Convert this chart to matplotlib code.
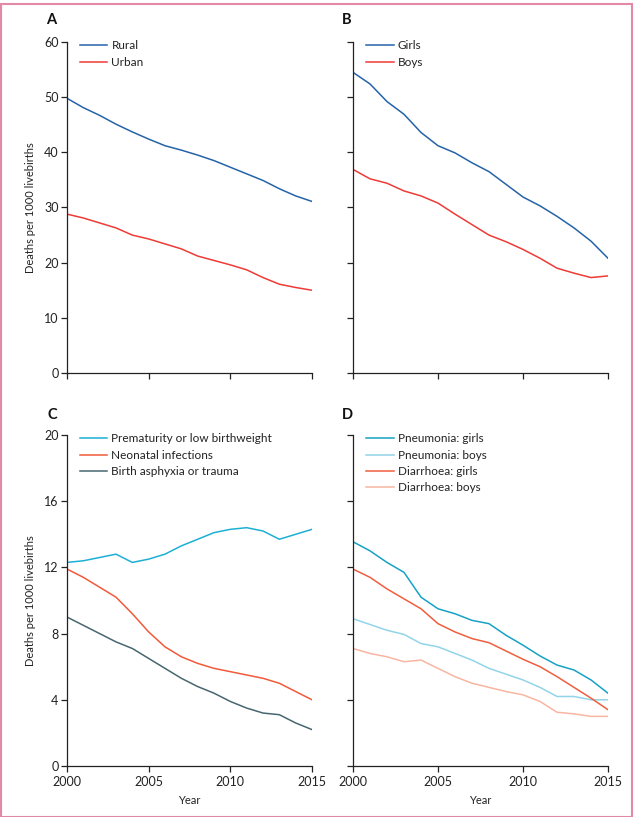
import matplotlib
matplotlib.use("Agg")
from matplotlib import pyplot as plt
from matplotlib.patches import Rectangle

plt.rcParams['font.family'] = ['Lato', 'DejaVu Sans']

years = list(range(2000, 2016))

# A: residence
rural = [49.8, 48.1, 46.7, 45.1, 43.7, 42.4, 41.2, 40.4, 39.5, 38.5, 37.3, 36.1, 34.9, 33.4, 32.1, 31.1]
urban = [28.8, 28.1, 27.2, 26.3, 25.0, 24.3, 23.4, 22.5, 21.2, 20.4, 19.6, 18.7, 17.3, 16.1, 15.5, 15.0]

# B: sex
girls = [54.5, 52.4, 49.2, 46.9, 43.6, 41.2, 39.9, 38.1, 36.5, 34.2, 31.9, 30.3, 28.4, 26.3, 23.9, 20.8]
boys = [36.9, 35.2, 34.4, 33.0, 32.1, 30.8, 28.8, 26.9, 25.0, 23.8, 22.4, 20.8, 19.0, 18.1, 17.3, 17.6]

# C: neonatal causes
prematurity = [12.3, 12.4, 12.6, 12.8, 12.3, 12.5, 12.8, 13.3, 13.7, 14.1, 14.3, 14.4, 14.2, 13.7, 14.0, 14.3]
neonatal_inf = [11.9, 11.4, 10.8, 10.2, 9.2, 8.1, 7.2, 6.6, 6.2, 5.9, 5.7, 5.5, 5.3, 5.0, 4.5, 4.0]
asphyxia = [9.0, 8.5, 8.0, 7.5, 7.1, 6.5, 5.9, 5.3, 4.8, 4.4, 3.9, 3.5, 3.2, 3.1, 2.6, 2.2]

# D: pneumonia and diarrhoea by sex
pneu_girls = [13.55, 13.0, 12.3, 11.7, 10.2, 9.5, 9.2, 8.8, 8.6, 7.9, 7.3, 6.65, 6.1, 5.8, 5.2, 4.4]
pneu_boys = [8.9, 8.55, 8.2, 7.95, 7.4, 7.2, 6.8, 6.4, 5.9, 5.55, 5.2, 4.75, 4.2, 4.2, 4.0, 4.0]
diar_girls = [11.9, 11.4, 10.7, 10.1, 9.5, 8.6, 8.1, 7.7, 7.45, 6.95, 6.45, 6.0, 5.4, 4.75, 4.1, 3.4]
diar_boys = [7.1, 6.8, 6.6, 6.3, 6.4, 5.9, 5.4, 5.0, 4.75, 4.5, 4.3, 3.9, 3.25, 3.15, 3.0, 3.0]

W, H = 635, 817
fig = plt.figure(figsize=(W / 100, H / 100), dpi=100)


def px_axes(x0, y0, x1, y1):
    return fig.add_axes([x0 / W, 1 - y1 / H, (x1 - x0) / W, (y1 - y0) / H])


def style(ax, ymax, yticks, xlabels):
    ax.set_xlim(2000, 2015)
    ax.set_ylim(0, ymax)
    ax.set_xticks([2000, 2005, 2010, 2015])
    ax.set_yticks(yticks)
    for s in ['top', 'right']:
        ax.spines[s].set_visible(False)
    for s in ['left', 'bottom']:
        ax.spines[s].set_linewidth(0.9)
        ax.spines[s].set_color('#222222')
    ax.tick_params(direction='out', length=4, width=0.9, color='#222222',
                   labelsize=9, pad=2, labelcolor='#222222')
    ax.tick_params(axis='x', pad=3.5)
    if not xlabels:
        ax.set_xticklabels([])
    ax.set_facecolor('none')


axA = px_axes(67, 42, 312, 373)
axB = px_axes(353, 42, 608, 373)
axC = px_axes(67, 435, 312, 766)
axD = px_axes(353, 435, 608, 766)

lw = 1.1
axA.plot(years, rural, color='#2563a8', lw=lw, label='Rural')
axA.plot(years, urban, color='#ee3b36', lw=lw, label='Urban')
style(axA, 60, [0, 10, 20, 30, 40, 50, 60], False)
axA.set_ylabel('Deaths per 1000 livebirths', fontsize=8, color='#222222', labelpad=6)

axB.plot(years, girls, color='#2563a8', lw=lw, label='Girls')
axB.plot(years, boys, color='#ee3b36', lw=lw, label='Boys')
style(axB, 60, [0, 10, 20, 30, 40, 50, 60], False)
axB.set_yticklabels([])

axC.plot(years, prematurity, color='#1cb0d4', lw=lw, label='Prematurity or low birthweight')
axC.plot(years, neonatal_inf, color='#f15a3a', lw=lw, label='Neonatal infections')
axC.plot(years, asphyxia, color='#47666f', lw=lw, label='Birth asphyxia or trauma')
style(axC, 20, [0, 4, 8, 12, 16, 20], True)
axC.set_ylabel('Deaths per 1000 livebirths', fontsize=8, color='#222222', labelpad=6)
axC.set_xlabel('Year', fontsize=8, color='#222222', labelpad=5)

axD.plot(years, pneu_girls, color='#16a2c4', lw=lw, label='Pneumonia: girls')
axD.plot(years, pneu_boys, color='#92d4e8', lw=lw, label='Pneumonia: boys')
axD.plot(years, diar_girls, color='#f05e3f', lw=lw, label='Diarrhoea: girls')
axD.plot(years, diar_boys, color='#f8b6a2', lw=lw, label='Diarrhoea: boys')
style(axD, 20, [0, 4, 8, 12, 16, 20], True)
axD.set_yticklabels([])
axD.set_xlabel('Year', fontsize=8, color='#222222', labelpad=5)

for ax in [axA, axB, axC, axD]:
    leg = ax.legend(loc='upper left', bbox_to_anchor=(0.02, 1.03), frameon=False,
                    fontsize=8.5, handlelength=2.3, handletextpad=0.35,
                    labelspacing=0.45, borderaxespad=0.3)
    for t in leg.get_texts():
        t.set_color('#222222')

for lab, x, y in [('A', 46, 20), ('B', 342, 20), ('C', 48, 415), ('D', 342, 415)]:
    fig.text(x / W, 1 - y / H, lab, fontsize=10.5, fontweight='bold',
             color='#111111', ha='left', va='center')

fig.patches.append(Rectangle((0.5 / W, 0.5 / H), 1 - 4 / W, 1 - 4 / H,
                             transform=fig.transFigure, fill=False,
                             edgecolor='#e388a8', lw=1.5))

fig.savefig('out.png', dpi=100)
